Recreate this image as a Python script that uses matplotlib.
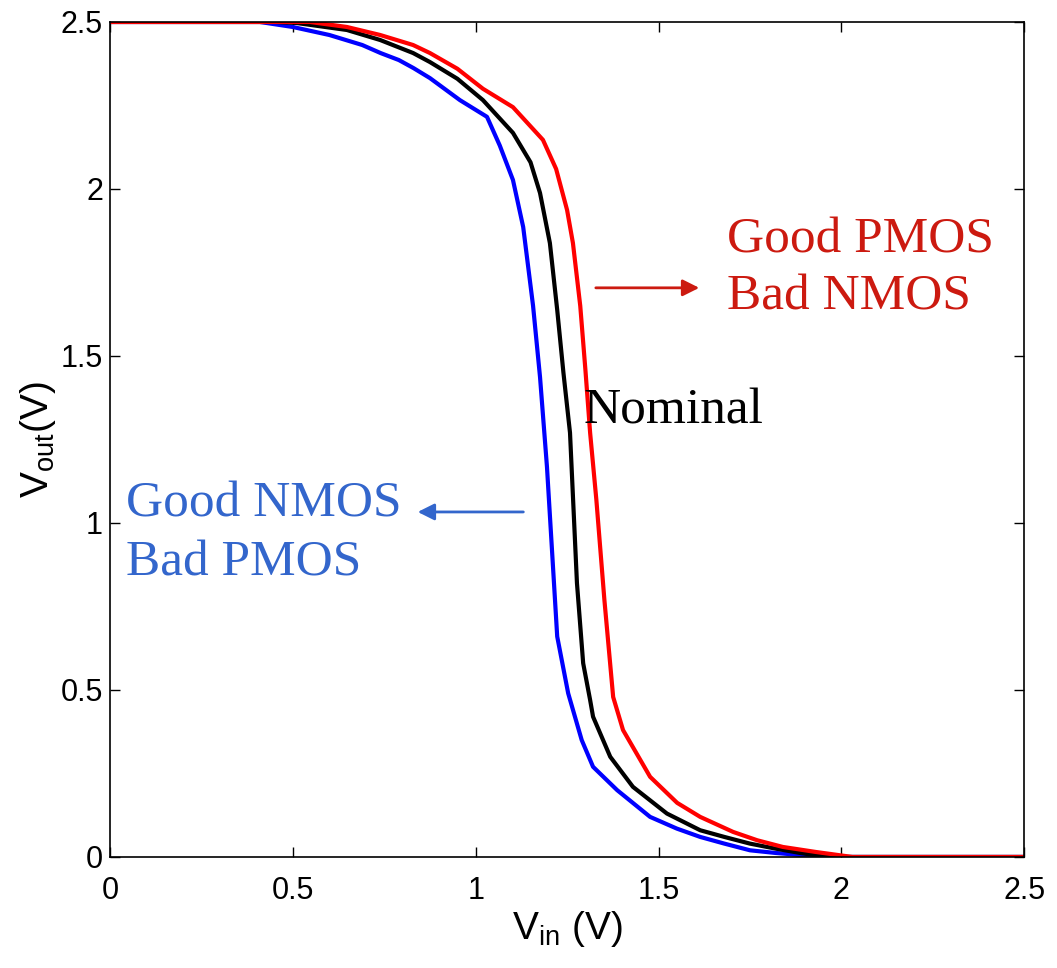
import matplotlib
matplotlib.use('Agg')
import matplotlib.pyplot as plt

# Voltage transfer curves
x_bad_pmos = [0.0, 0.41, 0.50, 0.60, 0.69, 0.74, 0.79, 0.83, 0.875, 0.957, 1.031, 1.066, 1.102,
              1.13, 1.157, 1.176, 1.195, 1.223, 1.253, 1.29, 1.321, 1.387, 1.477, 1.55, 1.614,
              1.68, 1.75, 1.82, 1.887, 1.93, 2.5]
y_bad_pmos = [2.5, 2.5, 2.485, 2.461, 2.431, 2.407, 2.386, 2.362, 2.332, 2.266, 2.216, 2.13, 2.027,
              1.886, 1.65, 1.437, 1.168, 0.66, 0.49, 0.35, 0.27, 0.20, 0.12, 0.085, 0.06,
              0.04, 0.02, 0.012, 0.006, 0.0, 0.0]

x_nominal = [0.0, 0.45, 0.51, 0.648, 0.739, 0.829, 0.875, 0.95, 1.02, 1.102, 1.15, 1.176, 1.203,
             1.223, 1.24, 1.258, 1.277, 1.294, 1.313, 1.321, 1.368, 1.43, 1.523, 1.614, 1.68,
             1.75, 1.82, 1.887, 1.96, 2.5]
y_nominal = [2.5, 2.5, 2.497, 2.476, 2.446, 2.407, 2.38, 2.33, 2.266, 2.168, 2.08, 1.988, 1.838,
             1.638, 1.45, 1.27, 0.82, 0.58, 0.47, 0.42, 0.30, 0.21, 0.13, 0.08, 0.06,
             0.04, 0.025, 0.012, 0.0, 0.0]

x_bad_nmos = [0.0, 0.547, 0.648, 0.739, 0.829, 0.875, 0.95, 1.02, 1.102, 1.184, 1.22, 1.25, 1.266,
              1.286, 1.30, 1.313, 1.33, 1.352, 1.376, 1.403, 1.477, 1.551, 1.614, 1.704,
              1.77, 1.84, 1.93, 2.03, 2.5]
y_bad_nmos = [2.5, 2.5, 2.485, 2.461, 2.431, 2.407, 2.36, 2.30, 2.245, 2.147, 2.06, 1.937, 1.838,
              1.65, 1.46, 1.27, 1.07, 0.77, 0.479, 0.38, 0.24, 0.162, 0.12, 0.075,
              0.05, 0.03, 0.015, 0.0, 0.0]

ticks = [0, 0.5, 1, 1.5, 2, 2.5]
tick_labels = ['0', '0.5', '1', '1.5', '2', '2.5']

plt.rcParams['font.family'] = ['Liberation Sans', 'DejaVu Sans']
plt.rcParams['mathtext.fontset'] = 'custom'
plt.rcParams['mathtext.rm'] = 'Liberation Sans'
plt.rcParams['mathtext.it'] = 'Liberation Sans'

fig = plt.figure(figsize=(10.57, 9.68), dpi=100)
ax = fig.add_axes([0.104, 0.1147, 0.865, 0.8626])

ax.plot(x_bad_pmos, y_bad_pmos, color='#0000ff', lw=3)
ax.plot(x_nominal, y_nominal, color='black', lw=3)
ax.plot(x_bad_nmos, y_bad_nmos, color='#ff0000', lw=3)

ax.set_xlim(0, 2.5)
ax.set_ylim(0, 2.5)
ax.set_xticks(ticks)
ax.set_xticklabels(tick_labels)
ax.set_yticks(ticks)
ax.set_yticklabels(tick_labels)
ax.tick_params(direction='in', top=True, right=True, length=7, width=1, labelsize=22)
ax.tick_params(axis='x', pad=14)
ax.tick_params(axis='y', pad=5)
for s in ax.spines.values():
    s.set_linewidth(1.2)

ax.set_xlabel(r'V$_{\mathrm{in}}$ (V)', fontsize=28, labelpad=2)
ax.set_ylabel(r'V$_{\mathrm{out}}$(V)', fontsize=28, labelpad=2)

serif = ['Liberation Serif', 'DejaVu Serif']
red_txt = '#cc1a10'
blue_txt = '#3366cc'
fs = 37

ax.text(1.688, 1.811, 'Good PMOS', color=red_txt, fontsize=fs, family=serif, va='baseline')
ax.text(1.688, 1.640, 'Bad NMOS', color=red_txt, fontsize=fs, family=serif, va='baseline')
ax.annotate('', xy=(1.619, 1.704), xytext=(1.321, 1.704),
            arrowprops=dict(arrowstyle='-|>', color=red_txt, lw=2, mutation_scale=25))

ax.text(1.294, 1.299, 'Nominal', color='black', fontsize=fs, family=serif, va='baseline')

ax.text(0.044, 1.018, 'Good NMOS', color=blue_txt, fontsize=fs, family=serif, va='baseline')
ax.text(0.044, 0.844, 'Bad PMOS', color=blue_txt, fontsize=fs, family=serif, va='baseline')
ax.annotate('', xy=(0.834, 1.033), xytext=(1.138, 1.033),
            arrowprops=dict(arrowstyle='-|>', color=blue_txt, lw=2, mutation_scale=25))

fig.savefig('out.png', dpi=100)
